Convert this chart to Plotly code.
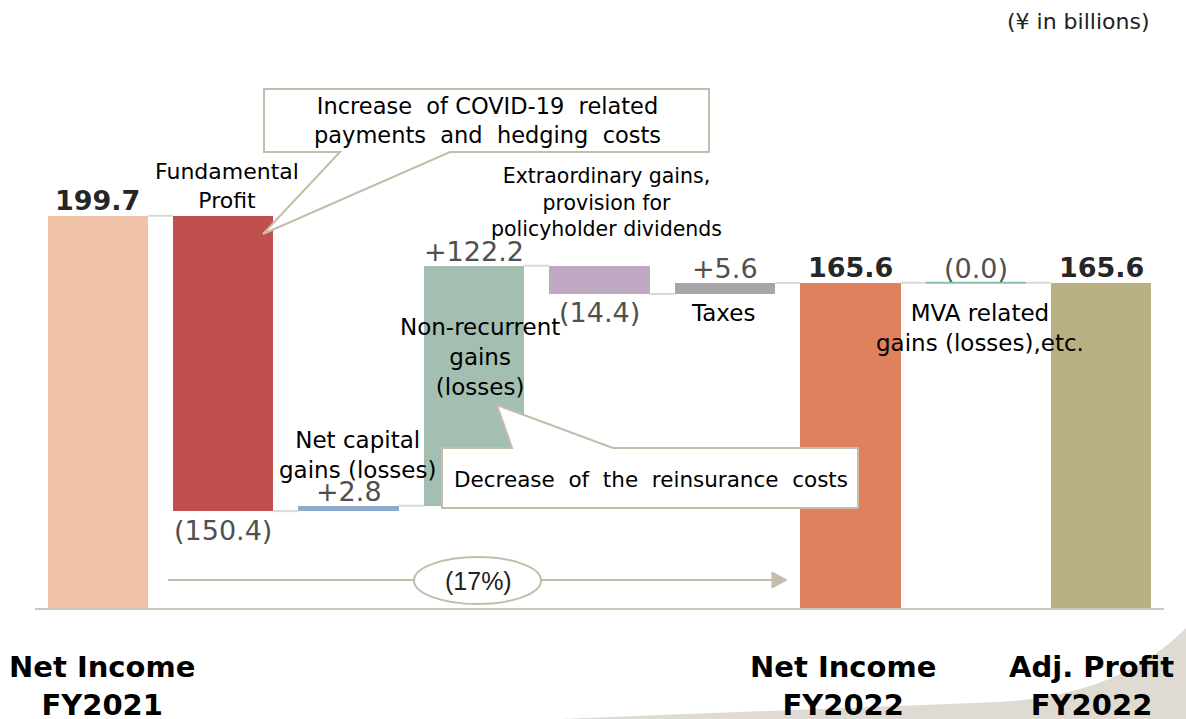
import plotly.graph_objects as go

# ---------------- data ----------------
categories = ["Net Income FY2021", "Fundamental Profit", "Net capital gains (losses)",
              "Non-recurrent gains (losses)",
              "Extraordinary gains, provision for policyholder dividends",
              "Taxes", "Net Income FY2022", "MVA related gains (losses),etc.",
              "Adj. Profit FY2022"]
values = [199.7, -150.4, 2.8, 122.2, -14.4, 5.6, 165.6, 0.0, 165.6]
measures = ["total", "relative", "relative", "relative", "relative",
            "relative", "total", "relative", "total"]
value_labels = ["199.7", "(150.4)", "+2.8", "+122.2", "(14.4)", "+5.6",
                "165.6", "(0.0)", "165.6"]
bar_colors = ["#F0C3A8", "#C0504D", "#8EA9CB", "#A3BFB1", "#BFA8C1",
              "#A6A6A6", "#E0815E", "#86BFAE", "#B8AF82"]
axis_labels = ["Net Income<br>FY2021", "", "", "", "", "",
               "Net Income<br>FY2022", "", "Adj. Profit<br>FY2022"]
bar_notes = ["", "Fundamental<br>Profit", "Net capital<br>gains (losses)",
             "Non-recurrent<br>gains<br>(losses)",
             "Extraordinary gains,<br>provision for<br>policyholder dividends",
             "Taxes", "", "MVA related<br>gains (losses),etc.", ""]
callout_texts = ["Increase  of COVID-19  related<br>payments  and  hedging  costs",
                 "Decrease  of  the  reinsurance  costs"]
change_label = "(17%)"
unit_label = "(¥ in billions)"

# ---------------- waterfall geometry from data ----------------
bases, heights, levels = [], [], []
running = 0.0
for v, m in zip(values, measures):
    if m == "total":
        bases.append(0.0)
        heights.append(v)
        running = v
    else:
        bases.append(min(running, running + v))
        heights.append(abs(v))
        running += v
    levels.append(running)

n = len(values)
xs = list(range(n))
BW = 0.8

# pixel helpers for layout elements (plot area: x 35..1164, y 30..608)
L, R, T, B = 35, 1164, 30, 608
def px(xp):
    return (xp - L) / (R - L)
def py(yp):
    return (B - yp) / (B - T)

fig = go.Figure()

# connectors
cx, cy = [], []
for i in range(n - 1):
    cx += [i + BW / 2, i + 1 - BW / 2, None]
    cy += [levels[i], levels[i], None]
fig.add_trace(go.Scatter(x=cx, y=cy, mode="lines",
                         line=dict(color="#D9D9D9", width=2),
                         hoverinfo="skip", showlegend=False))

fig.add_trace(go.Bar(x=xs, y=heights, base=bases, width=BW,
                     marker=dict(color=bar_colors, line=dict(width=0)),
                     hovertext=categories, hoverinfo="text", showlegend=False))

# zero-height change drawn as a thin line
zx, zy = [], []
for i in range(n):
    if heights[i] == 0:
        zx += [i - BW / 2, i + BW / 2, None]
        zy += [bases[i], bases[i], None]
fig.add_trace(go.Scatter(x=zx, y=zy, mode="lines",
                         line=dict(color=bar_colors[7], width=2),
                         hoverinfo="skip", showlegend=False))

annotations = []
FONT = "DejaVu Sans, Verdana, sans-serif"

# value labels
for i in range(n):
    top = bases[i] + heights[i]
    if measures[i] == "total":
        annotations.append(dict(x=i, y=top, xref="x", yref="y", text="<b>%s</b>" % value_labels[i],
                                showarrow=False, yshift=15, yanchor="middle", xanchor="center",
                                font=dict(family=FONT, size=27, color="#262626")))
    elif values[i] >= 0:
        annotations.append(dict(x=i, y=top, xref="x", yref="y", text=value_labels[i],
                                showarrow=False, yshift=14, yanchor="middle", xanchor="center",
                                font=dict(family=FONT, size=27, color="#505050")))
    else:
        annotations.append(dict(x=i, y=bases[i], xref="x", yref="y", text=value_labels[i],
                                showarrow=False, yshift=-19, yanchor="middle", xanchor="center",
                                font=dict(family=FONT, size=27, color="#505050")))

# descriptive notes (pixel centres)
note_pos = {1: (227, 186, 22), 2: (357, 455, 23), 3: (480, 357, 23),
            4: (606, 202, 20.5), 5: (723, 313, 23), 7: (980, 328, 23)}
for i, (cxp, cyp, fs) in note_pos.items():
    annotations.append(dict(x=px(cxp), y=py(cyp), xref="paper", yref="paper",
                            text=bar_notes[i], showarrow=False, xanchor="center",
                            yanchor="middle", align="center",
                            font=dict(family=FONT, size=fs, color="#000000")))

# bottom category labels
bottom_pos = {0: 102, 6: 843, 8: 1091}
for i, cxp in bottom_pos.items():
    annotations.append(dict(x=px(cxp), y=py(686), xref="paper", yref="paper",
                            text="<b>%s</b>" % axis_labels[i], showarrow=False,
                            xanchor="center", yanchor="middle", align="center",
                            font=dict(family=FONT, size=29, color="#000000")))

# callout texts
annotations.append(dict(x=px(487), y=py(121), xref="paper", yref="paper",
                        text=callout_texts[0], showarrow=False, align="center",
                        xanchor="center", yanchor="middle",
                        font=dict(family=FONT, size=22.5, color="#000000")))
annotations.append(dict(x=px(651), y=py(479), xref="paper", yref="paper",
                        text=callout_texts[1], showarrow=False, align="center",
                        xanchor="center", yanchor="middle",
                        font=dict(family=FONT, size=21.5, color="#000000")))
# change ellipse text
annotations.append(dict(x=px(478), y=py(581), xref="paper", yref="paper",
                        text=change_label, showarrow=False,
                        xanchor="center", yanchor="middle",
                        font=dict(family="Liberation Sans Narrow, Liberation Sans, sans-serif",
                                  size=25, color="#222222")))
# unit
annotations.append(dict(x=px(1078), y=py(21), xref="paper", yref="paper",
                        text=unit_label, showarrow=False,
                        xanchor="center", yanchor="middle",
                        font=dict(family=FONT, size=22, color="#222222")))

def path(points):
    s = "M %f,%f " % (px(points[0][0]), py(points[0][1]))
    for p in points[1:]:
        s += "L %f,%f " % (px(p[0]), py(p[1]))
    return s + "Z"

BORDER = "#C5BDAB"
shapes = [
    # decorative swoosh bottom right
    dict(type="path", xref="paper", yref="paper", layer="below",
         path="M %f,%f L %f,%f Q %f,%f %f,%f L %f,%f Z" % (
             px(560), py(719), px(1000), py(702), px(1120), py(695),
             px(1186), py(628), px(1186), py(719)),
         fillcolor="#DFDBD2", line=dict(width=0)),
    # callout 1
    dict(type="path", xref="paper", yref="paper", layer="above",
         path=path([(264, 89), (709, 89), (709, 152), (450, 152), (263, 234),
                    (340, 152), (264, 152)]),
         fillcolor="white", line=dict(color=BORDER, width=2)),
    # callout 2
    dict(type="path", xref="paper", yref="paper", layer="above",
         path=path([(442, 448), (512, 448), (497, 405), (613, 448), (858, 448),
                    (858, 508), (442, 508)]),
         fillcolor="white", line=dict(color=BORDER, width=2)),
    # arrow line
    dict(type="line", xref="paper", yref="paper", layer="above",
         x0=px(168), y0=py(580), x1=px(773), y1=py(580),
         line=dict(color=BORDER, width=2)),
    dict(type="path", xref="paper", yref="paper", layer="above",
         path=path([(772, 572), (787, 580), (772, 588)]),
         fillcolor=BORDER, line=dict(color=BORDER, width=1)),
    # ellipse
    dict(type="circle", xref="paper", yref="paper", layer="above",
         x0=px(414), x1=px(541), y0=py(604), y1=py(557),
         fillcolor="white", line=dict(color=BORDER, width=2)),
]

fig.update_layout(
    width=1186, height=719,
    margin=dict(l=L, r=1186 - R, t=T, b=719 - B),
    paper_bgcolor="white", plot_bgcolor="rgba(0,0,0,0)",
    xaxis=dict(range=[-0.5, n - 0.5], showgrid=False, zeroline=False,
               showticklabels=False, ticks="", showline=True,
               linecolor="#CFC8BA", linewidth=2, fixedrange=True),
    yaxis=dict(range=[0, (B - T) / 1.964], visible=False, fixedrange=True),
    annotations=annotations, shapes=shapes, showlegend=False,
    bargap=0,
)

fig.write_html("out.html", config={"displayModeBar": False},
               post_script="document.body.style.margin='0';")
